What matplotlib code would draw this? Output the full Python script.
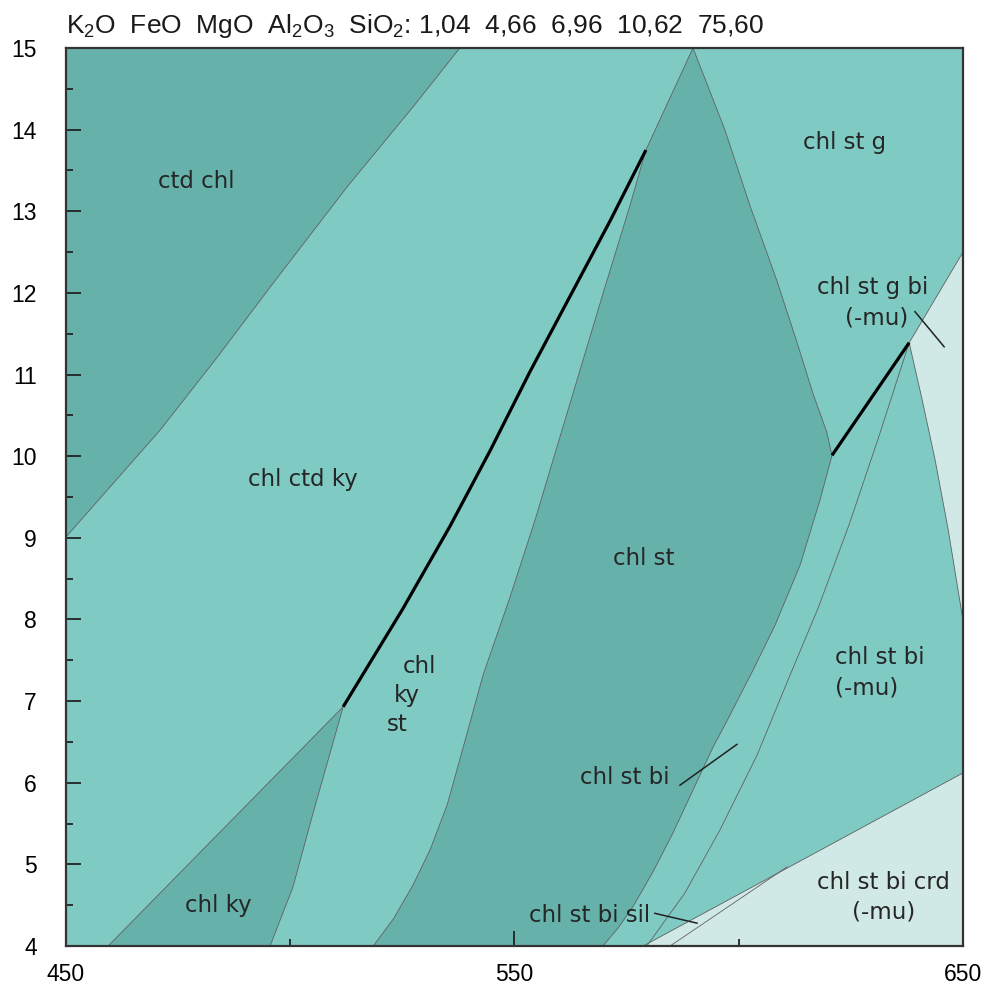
import matplotlib.pyplot as plt
from matplotlib.ticker import FixedLocator, MultipleLocator

plt.rcParams['font.family'] = ['Liberation Sans', 'DejaVu Sans']
plt.rcParams['mathtext.default'] = 'regular'

DARK = '#66b2ab'
MID = '#7fcbc3'
LIGHT = '#d1e9e6'
EDGE = '#606060'

# phase boundaries: T in C, P in kbar
ctd_T = [450.0, 471.0, 483.7, 496.2, 512.7, 527.4, 537.8]
ctd_P = [9.01, 10.32, 11.21, 12.12, 13.30, 14.28, 15.0]

ctdout_T = [511.8, 525.1, 535.6, 544.5, 553.5, 562.4, 571.3, 579.3]
ctdout_P = [6.93, 8.13, 9.14, 10.06, 11.04, 11.96, 12.88, 13.75]

ky_left_T = [511.8, 459.4]
ky_left_P = [6.93, 4.0]
ky_right_T = [511.8, 505.1, 500.6, 495.5]
ky_right_P = [6.93, 5.63, 4.72, 4.0]

st_left_T = [589.8, 579.3, 575.8, 570.0, 565.3, 560.6, 554.6, 548.8, 543.0,
             539.0, 535.0, 531.2, 527.4, 523.1, 518.5]
st_left_P = [15.0, 13.75, 13.08, 12.04, 11.18, 10.32, 9.22, 8.24, 7.32,
             6.52, 5.73, 5.18, 4.75, 4.34, 4.0]
st_right_T = [589.8, 596.9, 602.5, 608.5, 612.9, 616.6, 619.6, 620.8,
              618.1, 613.7, 608.1, 603.2, 597.4, 594.3, 589.8, 585.3, 580.9,
              576.4, 573.1, 569.7]
st_right_P = [15.0, 14.0, 13.07, 12.15, 11.41, 10.76, 10.30, 10.01,
              9.46, 8.67, 7.93, 7.38, 6.76, 6.44, 5.91, 5.38, 4.91,
              4.48, 4.22, 4.0]

gin_T = [620.8, 638.0]
gin_P = [10.01, 11.39]

g_bi_T = [638.0, 650.0]
g_bi_P = [11.39, 12.50]

wedge_T = [638.0, 640.9, 643.8, 646.7, 648.9, 650.0]
wedge_P = [11.39, 10.69, 9.95, 9.10, 8.36, 7.99]

bi_T = [638.0, 631.0, 624.6, 617.7, 611.0, 604.1, 595.8, 588.0, 579.5]
bi_P = [11.39, 10.20, 9.16, 8.14, 7.26, 6.34, 5.42, 4.65, 4.0]

crd_T = [650.0, 578.7]
crd_P = [6.12, 4.0]

sil_T = [610.8, 584.7]
sil_P = [4.97, 4.0]

labels = [
    ('ctd chl', 479.0, 13.36, 'center'),
    ('chl ctd ky', 502.8, 9.71, 'center'),
    ('chl st g', 623.7, 13.84, 'center'),
    ('chl st g bi', 629.9, 12.07, 'center'),
    ('(-mu)', 630.8, 11.69, 'center'),
    ('chl st', 578.9, 8.75, 'center'),
    ('chl', 528.9, 7.42, 'center'),
    ('ky', 526.0, 7.07, 'center'),
    ('st', 523.8, 6.71, 'center'),
    ('chl st bi', 621.5, 7.54, 'left'),
    ('(-mu)', 621.5, 7.16, 'left'),
    ('chl st bi', 574.6, 6.07, 'center'),
    ('chl ky', 483.9, 4.49, 'center'),
    ('chl st bi sil', 566.8, 4.37, 'center'),
    ('chl st bi crd', 632.2, 4.78, 'center'),
    ('(-mu)', 632.4, 4.42, 'center'),
]

pointers = [
    ([639.3, 645.8], [11.77, 11.34]),
    ([586.9, 599.6], [5.97, 6.47]),
    ([581.3, 590.7], [4.40, 4.28]),
]

fig = plt.figure(figsize=(9.89, 9.96), dpi=100)
ax = fig.add_axes([0.0667, 0.0502, 0.907, 0.9016])
ax.set_facecolor(MID)
ax.set_xlim(450, 650)
ax.set_ylim(4, 15)

# dark fields
ax.fill(ctd_T + [450.0], ctd_P + [15.0], color=DARK, lw=0)
ax.fill(ky_left_T + ky_right_T[::-1], ky_left_P + ky_right_P[::-1], color=DARK, lw=0)
ax.fill(st_right_T + st_left_T[::-1], st_right_P + st_left_P[::-1], color=DARK, lw=0)

# light fields
ax.fill(g_bi_T + wedge_T[::-1], g_bi_P + wedge_P[::-1], color=LIGHT, lw=0)
ax.fill(crd_T + [650.0], crd_P + [4.0], color=LIGHT, lw=0)

for T, P in [(ctd_T, ctd_P), (ky_left_T, ky_left_P), (ky_right_T, ky_right_P),
             (st_left_T, st_left_P), (st_right_T, st_right_P), (g_bi_T, g_bi_P),
             (wedge_T, wedge_P), (bi_T, bi_P), (crd_T, crd_P), (sil_T, sil_P)]:
    ax.plot(T, P, color=EDGE, lw=0.6)

ax.plot(ctdout_T, ctdout_P, color='black', lw=2.3, solid_capstyle='butt')
ax.plot(gin_T, gin_P, color='black', lw=2.3, solid_capstyle='butt')

for T, P in pointers:
    ax.plot(T, P, color='#222222', lw=1.1)

for txt, T, P, ha in labels:
    ax.text(T, P, txt, ha=ha, va='center', fontsize=16.5, color='#262626',
            family=['DejaVu Sans'])

ax.set_xticks([450, 550, 650])
ax.xaxis.set_minor_locator(FixedLocator([500, 600]))
ax.set_yticks(range(4, 16))
ax.yaxis.set_minor_locator(MultipleLocator(0.5))
ax.tick_params(which='both', direction='in', top=False, right=False,
               color='#222222', width=1.3)
ax.tick_params(which='major', length=11, labelsize=16.5)
ax.tick_params(which='minor', length=5)
ax.tick_params(axis='y', pad=21)
ax.tick_params(axis='x', pad=12)
for s in ax.spines.values():
    s.set_linewidth(1.6)
    s.set_color('#333333')

fig.text(0.0667, 0.974,
         r'K$_2$O  FeO  MgO  Al$_2$O$_3$  SiO$_2$: 1,04  4,66  6,96  10,62  75,60',
         fontsize=19, va='center', ha='left', color='#1a1a1a')

fig.savefig('out.png', dpi=100)
